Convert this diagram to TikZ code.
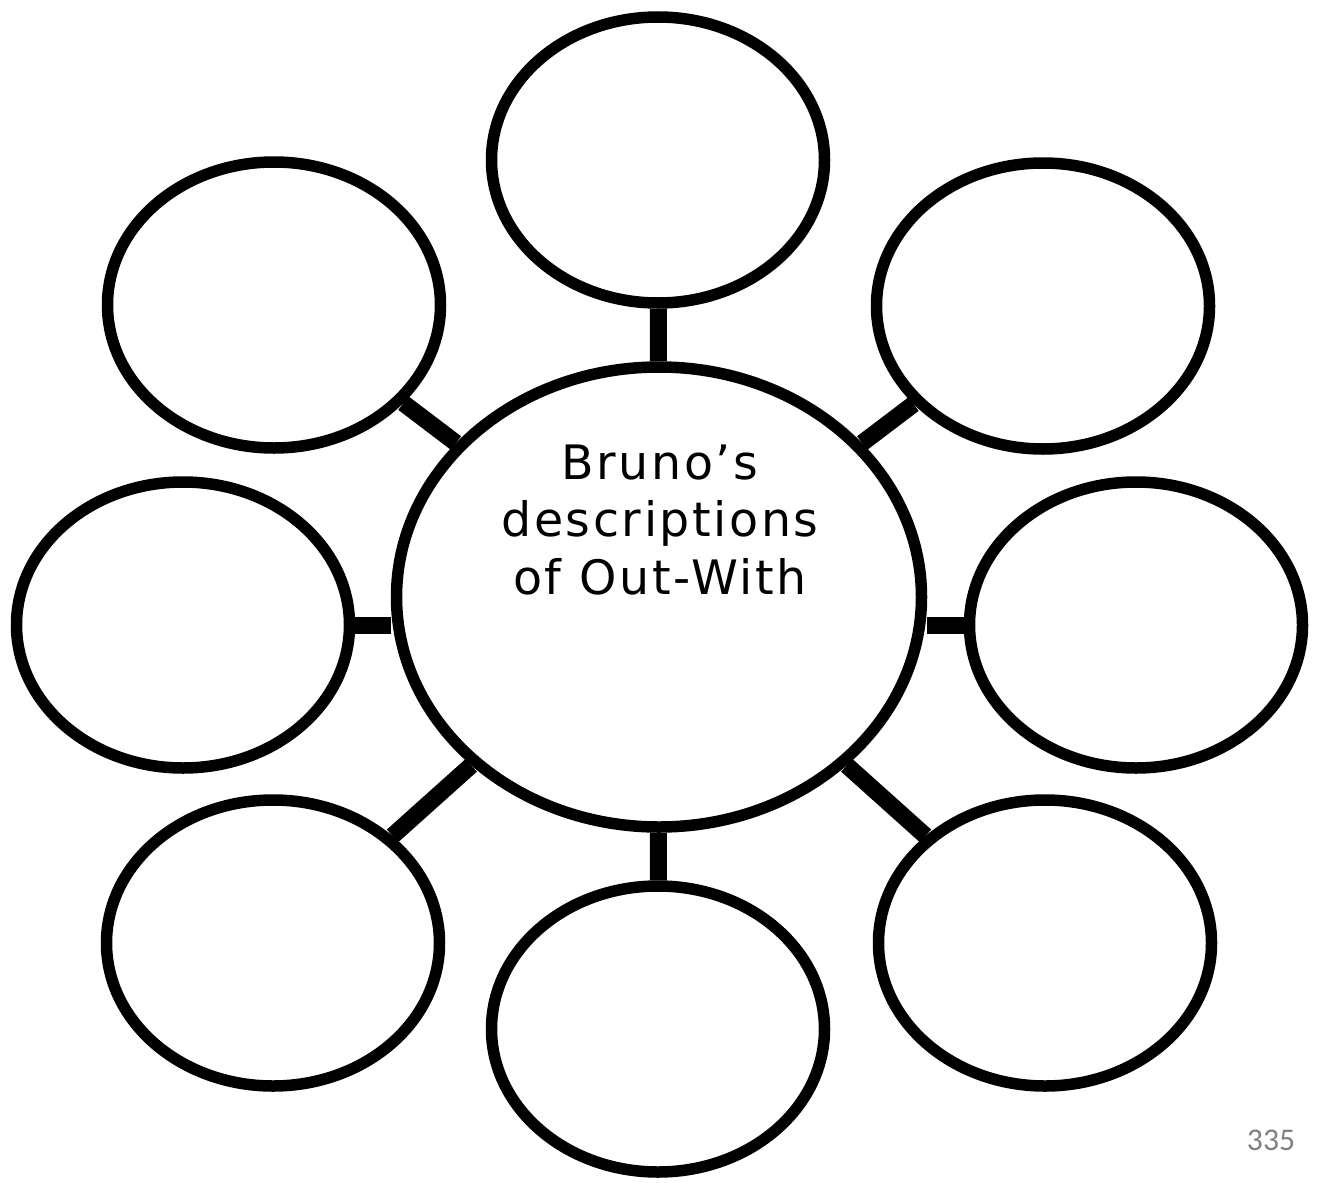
\documentclass[tikz,border=0pt]{standalone}
\usepackage{fontspec}
\setmainfont{DejaVu Sans}
\newfontfamily\pagefont{Carlito}
\usetikzlibrary{shapes.geometric}

\begin{document}
\begin{tikzpicture}
% Define styles
\tikzstyle{hubcircle} = [ellipse, draw=black, line width=0.23cm, minimum width=10.5cm, minimum height=9.2cm, fill=white]
\tikzstyle{leafcircle} = [ellipse, draw=black, line width=0.23cm, minimum width=6.66cm, minimum height=5.72cm, fill=white]
\tikzstyle{link} = [line width=0.34cm, black]

% Page frame
\useasboundingbox (0,0) rectangle (26.44,-23.64);

% Centre
\node[hubcircle] (hub) at (13.18,-11.94) {};
\node[font=\addfontfeature{LetterSpace=5.5}\fontsize{27}{32.5}\selectfont, align=center] (title) at (13.2,-10.4) {Bruno’s\\descriptions\\of Out-With};

% Outer ring
\node[leafcircle] (top) at (13.16,-3.2) {};
\node[leafcircle] (upleft) at (5.48,-6.1) {};
\node[leafcircle] (upright) at (20.86,-6.12) {};
\node[leafcircle] (left) at (3.66,-12.5) {};
\node[leafcircle] (right) at (22.72,-12.5) {};
\node[leafcircle] (lowleft) at (5.46,-18.86) {};
\node[leafcircle] (bottom) at (13.16,-20.58) {};
\node[leafcircle] (lowright) at (20.9,-18.86) {};

% Spokes
\draw[link] (hub) -- (top);
\draw[link] (hub) -- (bottom);
\draw[link] (hub) -- (upleft);
\draw[link] (hub) -- (upright);
\draw[link] (hub) -- (lowleft);
\draw[link] (hub) -- (lowright);
\draw[link] (left.east) -- (left.east -| hub.west);
\draw[link] (right.west) -- (right.west -| hub.east);

% Page number
\node[font=\pagefont\fontsize{18}{20}\selectfont, text=gray] (pagenum) at (25.42,-22.8) {335};
\end{tikzpicture}
\end{document}
